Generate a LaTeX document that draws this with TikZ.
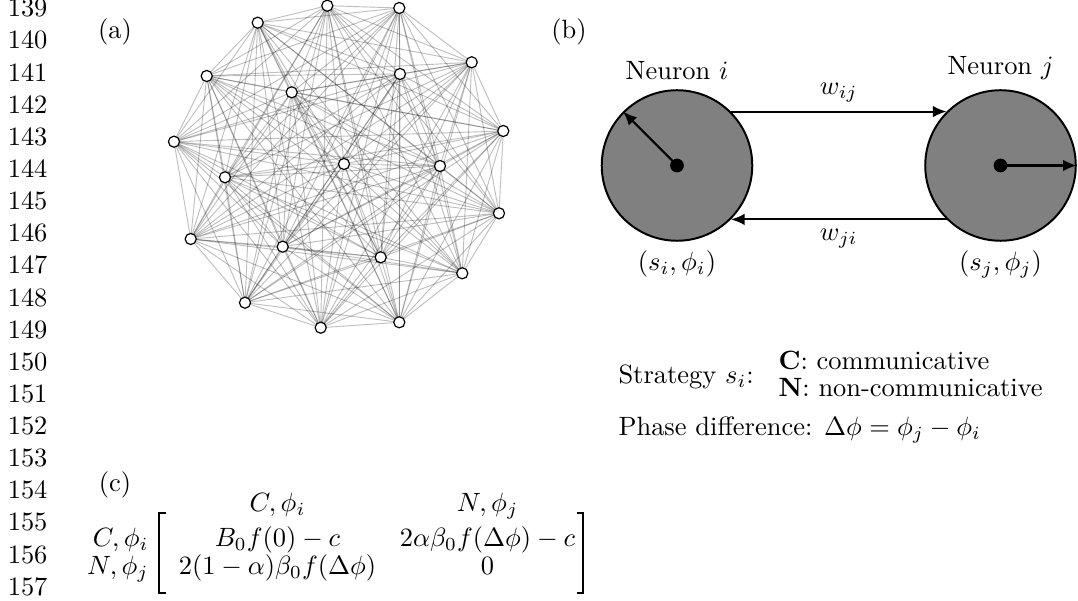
\documentclass[tikz,border=0pt]{standalone}
\usepackage{amsmath,amssymb}
\usepackage{tikz}
\usetikzlibrary{arrows.meta,positioning}

\begin{document}
\begin{tikzpicture}[
  x=0.378pt, y=-0.378pt,
  lineno/.style={anchor=east, inner sep=0pt},
  panel/.style={inner sep=0pt},
  vert/.style={draw, circle, fill=white, inner sep=0pt,
               minimum size=4.2pt, line width=0.45pt},
  edge/.style={draw=black, opacity=0.25, line width=0.35pt},
  neuron/.style={draw, circle, fill=black!50, minimum size=2cm, line width=0.75pt},
  conn/.style={-{Latex[length=5.2pt,width=4.4pt]}, line width=0.8pt},
  entry/.style={anchor=base, inner sep=0pt},
  rowlab/.style={anchor=base east, inner sep=0pt},
  legend/.style={anchor=west, inner sep=0pt},
  bracket/.style={line width=0.7pt},
]
\useasboundingbox (0,0) rectangle (1078,601);

% Номера строк
\foreach \n [count=\k from 0] in {139,...,157}
  \node[lineno] (ln\n) at (48,{8+\k*32.15}) {\n};

% (a) Сеть
\node[panel] (lbla) at (115,32) {(a)};
\foreach \i/\x/\y in {1/327.3/5.7, 2/399.3/8, 3/257.7/22.7, 4/471.7/62.3,
    5/206.7/76, 6/400/74, 7/291.7/92.3, 8/503.3/131, 9/174/141.7,
    10/344/164, 11/440/166, 12/225/177.3, 13/499/213.3, 14/190.7/239,
    15/282.7/246.7, 16/380.7/257.3, 17/462.3/273.3, 18/245/302.7,
    19/320.7/327.7, 20/399.3/322.3}
  \coordinate (v\i) at (\x,\y);
\foreach \i in {1,...,19} {
  \pgfmathtruncatemacro\nxt{\i+1}
  \foreach \j in {\nxt,...,20}
    \draw[edge] (v\i) -- (v\j);
}
\foreach \i in {1,...,20}
  \node[vert] (n\i) at (v\i) {};

% (b) Два нейрона
\node[panel] (lblb) at (569,31.7) {(b)};
\node[neuron] (ni) at (677,165.5) {};
\node[neuron] (nj) at (1000.5,165.5) {};
\node[above=0pt of ni] (namei) {Neuron $i$};
\node[above=0pt of nj] (namej) {Neuron $j$};
\node[below=0pt of ni] (statei) {$(s_i,\phi_i)$};
\node[below=0pt of nj] (statej) {$(s_j,\phi_j)$};
\draw[conn] (ni.45) -- node[above] (wij) {$w_{ij}$} (nj.135);
\draw[conn] (nj.-135) -- node[below] (wji) {$w_{ji}$} (ni.-45);

% Фазы
\fill (ni.center) circle (2.6pt);
\fill (nj.center) circle (2.6pt);
\draw[conn] (ni.center) -- (ni.135);
\draw[conn] (nj.center) -- (nj.east);

% Стратегии
\node[legend] (strat) at (618,377) {Strategy $s_i$:};
\node[legend] (optc) at (778,360) {\textbf{C}: communicative};
\node[legend] (optn) at (778,388) {\textbf{N}: non-communicative};
\node[legend] (phase) at (618,430) {Phase difference: $\Delta\phi = \phi_j - \phi_i$};

% (c) Матрица выигрышей
\node[panel] (lblc) at (115,485) {(c)};
\node[entry] (h1) at (277.5,512) {$C,\phi_i$};
\node[entry] (h2) at (487.5,512) {$N,\phi_j$};
\node[rowlab] (r1) at (149,547) {$C,\phi_i$};
\node[rowlab] (r2) at (149,575) {$N,\phi_j$};
\node[entry] (m11) at (277.5,547) {$B_0 f(0) - c$};
\node[entry] (m12) at (487.5,547) {$2\alpha\beta_0 f(\Delta\phi) - c$};
\node[entry] (m21) at (277.5,575) {$2(1-\alpha)\beta_0 f(\Delta\phi)$};
\node[entry] (m22) at (487.5,575) {$0$};
\draw[bracket] (166,513) -| (159,593) -- (166,593);
\draw[bracket] (577,513) -| (583,593) -- (577,593);
\end{tikzpicture}
\end{document}
